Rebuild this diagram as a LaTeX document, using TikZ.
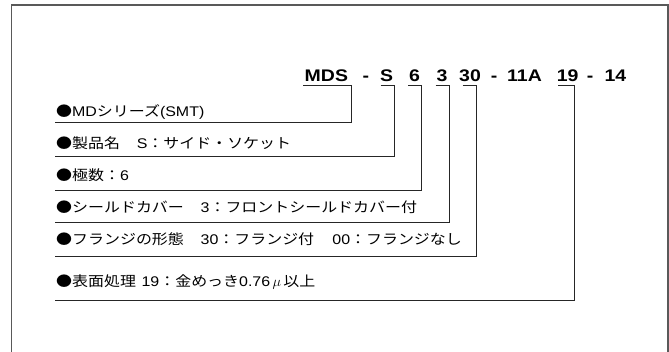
\documentclass[tikz,border=0pt]{standalone}
\usepackage{fontspec}
\setmainfont{Liberation Sans}[FakeStretch=1.14]
\newfontfamily\jp{Noto Sans CJK JP}[FakeStretch=1.14]
\newfontfamily\titlefont{Liberation Sans}[FakeStretch=1.16]
\newcommand{\J}[1]{{\jp #1}}
\begin{document}
\begin{tikzpicture}[x=1pt,y=-1pt,
  tok/.style={anchor=base west,inner sep=0pt,font=\titlefont\bfseries\fontsize{16.8}{17}\selectfont},
  rowtxt/.style={anchor=base west,inner sep=0pt,font=\fontsize{14}{14}\selectfont},
  conn/.style={draw=black!85,line width=0.9pt},
  frame/.style={draw=black!65,line width=1.4pt}]
\useasboundingbox (0,0) rectangle (669,351);
% frame
\draw[frame] (11.5,360) -- (11.5,5) -- (668,5) -- (668,360);
% title tokens
\node[tok] (tMDS) at (304.5,81) {MDS};
\node[tok] (tD1)  at (362.5,81) {-};
\node[tok] (tS)   at (380,81) {S};
\node[tok] (t6)   at (409,81) {6};
\node[tok] (t3)   at (436.5,81) {3};
\node[tok] (t30)  at (459,81) {30};
\node[tok] (tD2)  at (490.7,81) {-};
\node[tok] (t11A) at (507,81) {11A};
\node[tok] (t19)  at (556.6,81) {19};
\node[tok] (tD3)  at (586.7,81) {-};
\node[tok] (t14)  at (604.3,81) {14};
% row texts
\node[rowtxt] (r1) at (56,116) {\J{●}MD\J{シリーズ}(SMT)};
\node[rowtxt] (r2) at (56,148) {\J{●製品名}\hspace{1.2em}S\J{：サイド・ソケット}};
\node[rowtxt] (r3) at (56,180) {\J{●極数：}6};
\node[rowtxt] (r4) at (56,212) {\J{●シールドカバー}\hspace{1.2em}3\J{：フロントシールドカバー付}};
\node[rowtxt] (r5) at (56,244) {\J{●フランジの形態}\hspace{1.2em}30\J{：フランジ付}\hspace{1.3em}00\J{：フランジなし}};
\node[rowtxt] (r6) at (56,286) {\J{●表面処理}\hspace{0.4em}19\J{：金めっき}0.76\,$\mu$\,\J{以上}};
% connector coordinates
\coordinate (a1) at (303,85);   \coordinate (b1) at (351.7,85);
\coordinate (a2) at (380.7,85); \coordinate (b2) at (394.3,85);
\coordinate (a3) at (408,85);   \coordinate (b3) at (421.7,85);
\coordinate (a4) at (435.7,85); \coordinate (b4) at (449.3,85);
\coordinate (a5) at (462.5,85); \coordinate (b5) at (476.7,85);
\coordinate (a6) at (558,85);   \coordinate (b6) at (574,85);
\coordinate (e1) at (55,122.7);
\coordinate (e2) at (55,156.7);
\coordinate (e3) at (55,190);
\coordinate (e4) at (55,222.7);
\coordinate (e5) at (55,256);
\coordinate (e6) at (55,300);
\foreach \i in {1,...,6}{
  \draw[conn] (a\i) -- (b\i) |- (e\i);
}
\end{tikzpicture}
\end{document}
